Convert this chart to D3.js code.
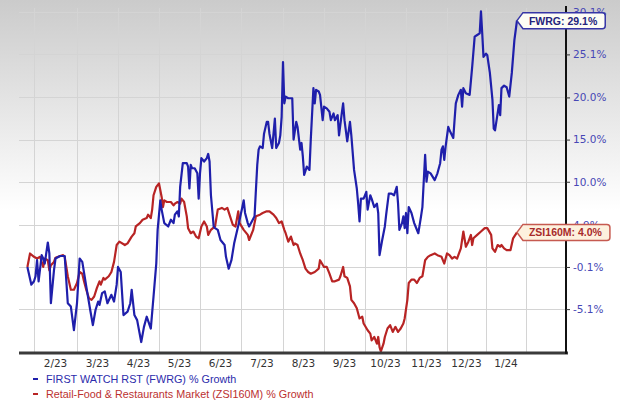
<!DOCTYPE html>
<html><head><meta charset="utf-8">
<script src="https://cdn.jsdelivr.net/npm/d3@7"></script>
<style>html,body{margin:0;padding:0;background:#fff;}svg{display:block}</style>
</head><body>
<svg id="chart" width="620" height="405"></svg>
<script>
// ---------------- DATA ----------------
const fwrgName = "FWRG";
const zsiName = "ZSI160M";
const legendLabels = ["FIRST WATCH RST (FWRG) % Growth", "Retail-Food & Restaurants Market (ZSI160M) % Growth"];
const monthLabels = ["2/23","3/23","4/23","5/23","6/23","7/23","8/23","9/23","10/23","11/23","12/23","1/24"];
const yTickValues = [-5.1, -0.1, 4.9, 10.0, 15.0, 20.0, 25.1, 30.1];
const yTickLabels = ["-5.1%","-0.1%","4.9%","10.0%","15.0%","20.0%","25.1%","30.1%"];

const fwrgDates = ["2023-01-27","2023-01-30","2023-02-01","2023-02-02","2023-02-03","2023-02-04","2023-02-06","2023-02-07","2023-02-08","2023-02-10","2023-02-11","2023-02-12","2023-02-14","2023-02-15","2023-02-18","2023-02-21","2023-02-23","2023-02-25","2023-02-27","2023-03-01","2023-03-03","2023-03-05","2023-03-08","2023-03-11","2023-03-13","2023-03-15","2023-03-17","2023-03-18","2023-03-20","2023-03-22","2023-03-24","2023-03-27","2023-03-29","2023-03-31","2023-04-01","2023-04-03","2023-04-05","2023-04-08","2023-04-10","2023-04-11","2023-04-13","2023-04-15","2023-04-18","2023-04-20","2023-04-22","2023-04-25","2023-04-27","2023-04-29","2023-04-30","2023-05-02","2023-05-03","2023-05-05","2023-05-08","2023-05-10","2023-05-12","2023-05-13","2023-05-15","2023-05-16","2023-05-17","2023-05-19","2023-05-22","2023-05-23","2023-05-24","2023-05-25","2023-05-26","2023-05-28","2023-05-30","2023-05-31","2023-06-01","2023-06-02","2023-06-04","2023-06-06","2023-06-07","2023-06-08","2023-06-09","2023-06-11","2023-06-12","2023-06-14","2023-06-16","2023-06-19","2023-06-20","2023-06-22","2023-06-24","2023-06-26","2023-06-28","2023-06-30","2023-07-02","2023-07-03","2023-07-04","2023-07-06","2023-07-07","2023-07-09","2023-07-11","2023-07-12","2023-07-13","2023-07-14","2023-07-15","2023-07-17","2023-07-18","2023-07-20","2023-07-21","2023-07-22","2023-07-24","2023-07-25","2023-07-26","2023-07-27","2023-07-29","2023-07-30","2023-07-31","2023-08-01","2023-08-02","2023-08-03","2023-08-05","2023-08-08","2023-08-09","2023-08-11","2023-08-12","2023-08-14","2023-08-15","2023-08-16","2023-08-17","2023-08-19","2023-08-21","2023-08-22","2023-08-24","2023-08-25","2023-08-26","2023-08-28","2023-08-29","2023-08-31","2023-09-01","2023-09-03","2023-09-05","2023-09-06","2023-09-08","2023-09-09","2023-09-11","2023-09-12","2023-09-14","2023-09-15","2023-09-16","2023-09-18","2023-09-20","2023-09-21","2023-09-23","2023-09-25","2023-09-26","2023-09-27","2023-09-28","2023-09-30","2023-10-02","2023-10-03","2023-10-05","2023-10-06","2023-10-08","2023-10-10","2023-10-11","2023-10-12","2023-10-14","2023-10-16","2023-10-17","2023-10-19","2023-10-21","2023-10-23","2023-10-25","2023-10-26","2023-10-27","2023-10-29","2023-10-30","2023-10-31","2023-11-01","2023-11-02","2023-11-03","2023-11-05","2023-11-07","2023-11-08","2023-11-10","2023-11-12","2023-11-13","2023-11-15","2023-11-16","2023-11-17","2023-11-19","2023-11-22","2023-11-24","2023-11-26","2023-11-27","2023-11-28","2023-11-29","2023-11-30","2023-12-02","2023-12-03","2023-12-06","2023-12-07","2023-12-08","2023-12-10","2023-12-12","2023-12-13","2023-12-14","2023-12-16","2023-12-19","2023-12-21","2023-12-23","2023-12-25","2023-12-27","2023-12-28","2023-12-29","2023-12-30","2024-01-01","2024-01-02","2024-01-04","2024-01-06","2024-01-07","2024-01-08","2024-01-10","2024-01-11","2024-01-12","2024-01-13","2024-01-15","2024-01-17","2024-01-19","2024-01-21","2024-01-23","2024-01-25"];
const fwrgValues = [-0.1,-2.2,-1.8,-1.2,0.7,-1.8,1.3,0.9,0.3,2.8,1.5,-4.4,-0.5,0.9,1.2,1.2,-4.4,-4.8,-7.6,-4.4,0.9,0.5,-2.4,-5.2,-7.0,-5.2,-4.2,-4.6,-3.2,-3.0,-4.4,-3.4,-4.2,-2.2,-0.1,-0.7,-5.8,-5.4,-4.4,-2.8,-5.8,-6.4,-9.0,-7.2,-6.0,-7.4,-3.6,0.3,4.3,7.8,6.7,5.1,4.7,5.5,5.1,6.1,6.5,5.9,9.4,12.2,12.2,11.8,9.2,12.0,11.6,11.6,11.0,8.0,11.0,12.8,12.4,12.8,13.3,12.4,8.4,4.7,4.5,4.3,3.1,2.5,1.1,-0.3,0.7,2.7,4.1,5.5,7.0,7.8,6.3,5.1,4.7,5.3,5.9,9.0,12.0,13.8,14.2,14.0,15.7,17.1,17.1,15.7,14.0,15.7,17.5,14.0,14.6,15.5,17.7,24.2,19.3,20.1,19.9,19.9,15.0,17.1,16.5,13.8,14.6,13.0,10.8,11.8,11.4,15.0,21.1,19.3,20.9,20.7,20.3,17.3,18.9,18.7,18.3,17.3,18.1,17.3,17.9,15.5,18.1,19.3,17.3,14.8,17.1,15.5,11.4,9.2,7.4,5.3,8.0,8.0,8.8,6.7,8.4,8.0,7.0,7.4,6.3,1.3,3.1,4.7,6.1,8.6,8.6,8.4,9.4,7.4,4.3,5.1,5.9,4.5,6.3,3.9,7.0,6.3,5.1,4.7,3.9,5.9,7.0,13.2,10.0,11.2,11.0,10.2,11.0,12.2,13.8,14.2,12.6,14.2,16.5,16.1,15.2,17.3,19.3,20.3,20.9,18.9,21.1,20.5,20.3,23.6,27.2,27.4,27.6,30.2,27.6,24.8,25.2,25.0,22.9,19.7,16.3,16.1,18.1,19.1,17.9,21.1,21.4,21.2,20.1,22.9,26.8,29.1];

const zsiDates = ["2023-01-27","2023-01-29","2023-02-01","2023-02-03","2023-02-05","2023-02-07","2023-02-08","2023-02-10","2023-02-11","2023-02-12","2023-02-14","2023-02-15","2023-02-18","2023-02-20","2023-02-21","2023-02-23","2023-02-25","2023-02-27","2023-03-01","2023-03-03","2023-03-05","2023-03-06","2023-03-08","2023-03-10","2023-03-12","2023-03-14","2023-03-16","2023-03-18","2023-03-19","2023-03-21","2023-03-22","2023-03-25","2023-03-27","2023-03-29","2023-03-31","2023-04-02","2023-04-06","2023-04-08","2023-04-11","2023-04-13","2023-04-14","2023-04-17","2023-04-19","2023-04-22","2023-04-23","2023-04-25","2023-04-26","2023-04-27","2023-04-29","2023-05-01","2023-05-03","2023-05-04","2023-05-05","2023-05-07","2023-05-10","2023-05-12","2023-05-13","2023-05-15","2023-05-17","2023-05-18","2023-05-20","2023-05-22","2023-05-23","2023-05-25","2023-05-27","2023-05-29","2023-05-31","2023-06-02","2023-06-04","2023-06-06","2023-06-07","2023-06-09","2023-06-12","2023-06-14","2023-06-17","2023-06-19","2023-06-21","2023-06-23","2023-06-25","2023-06-27","2023-06-29","2023-06-30","2023-07-03","2023-07-06","2023-07-07","2023-07-10","2023-07-12","2023-07-15","2023-07-17","2023-07-20","2023-07-22","2023-07-25","2023-07-27","2023-07-29","2023-07-31","2023-08-02","2023-08-03","2023-08-05","2023-08-07","2023-08-09","2023-08-10","2023-08-12","2023-08-14","2023-08-16","2023-08-18","2023-08-20","2023-08-22","2023-08-25","2023-08-28","2023-08-29","2023-09-01","2023-09-03","2023-09-05","2023-09-07","2023-09-09","2023-09-12","2023-09-13","2023-09-15","2023-09-16","2023-09-18","2023-09-20","2023-09-21","2023-09-23","2023-09-25","2023-09-27","2023-09-29","2023-09-30","2023-10-03","2023-10-05","2023-10-06","2023-10-08","2023-10-10","2023-10-11","2023-10-12","2023-10-13","2023-10-15","2023-10-16","2023-10-18","2023-10-20","2023-10-22","2023-10-24","2023-10-26","2023-10-28","2023-10-30","2023-10-31","2023-11-02","2023-11-03","2023-11-05","2023-11-07","2023-11-09","2023-11-11","2023-11-13","2023-11-15","2023-11-17","2023-11-19","2023-11-22","2023-11-24","2023-11-27","2023-11-29","2023-12-01","2023-12-03","2023-12-05","2023-12-07","2023-12-09","2023-12-12","2023-12-14","2023-12-16","2023-12-18","2023-12-20","2023-12-21","2023-12-22","2023-12-25","2023-12-28","2023-12-31","2024-01-02","2024-01-05","2024-01-06","2024-01-08","2024-01-10","2024-01-12","2024-01-13","2024-01-15","2024-01-17","2024-01-20","2024-01-22","2024-01-25"];
const zsiValues = [-0.1,1.5,1.1,0.9,1.1,-0.1,0.9,0.7,-0.5,0.1,0.5,1.0,1.2,1.3,1.1,-1.2,-2.8,-2.8,-2.0,-0.7,-0.9,-1.6,-2.8,-3.8,-4.0,-3.6,-2.6,-1.8,-2.2,-1.4,-1.6,-1.2,-0.7,0.5,2.5,2.9,2.5,2.7,3.5,3.9,4.7,5.1,5.5,5.7,6.1,5.7,6.7,8.4,9.4,9.8,8.2,7.0,7.8,7.6,7.6,7.2,7.4,7.6,7.4,8.0,7.6,5.9,4.5,3.9,4.1,3.5,3.3,4.7,5.3,4.7,3.7,4.3,4.7,6.7,6.9,6.7,6.9,5.9,4.9,4.7,6.5,5.1,4.3,3.7,3.1,4.3,5.9,6.1,6.3,6.5,6.5,6.1,5.7,5.1,5.3,4.3,3.9,2.9,3.5,2.5,2.7,2.5,1.5,0.7,-0.3,-0.7,-0.9,-0.7,-0.3,0.7,-0.1,-0.1,-0.9,-1.8,-1.8,-1.6,-1.2,-0.1,-1.2,-1.4,-2.4,-4.0,-4.4,-5.0,-6.2,-6.0,-6.8,-7.6,-8.0,-8.8,-8.4,-9.2,-8.4,-9.6,-10.1,-9.2,-8.4,-7.4,-7.0,-7.8,-7.2,-7.8,-7.4,-6.8,-6.2,-4.0,-2.0,-1.6,-1.6,-2.0,-1.4,-1.2,0.7,1.1,1.3,1.5,1.3,1.1,0.3,1.5,1.3,0.9,1.1,0.9,2.1,4.1,2.3,2.9,3.7,2.5,3.3,3.7,4.1,4.5,4.5,3.7,2.1,1.7,2.5,2.3,2.5,2.1,1.9,1.9,3.3,4.0];

// ---------------- LAYOUT ----------------
const W = 620, H = 405;
const plot = {left: 19, right: 566, top: 8, bottom: 353};
const parse = d3.timeParse("%Y-%m-%d");
const fwrg = fwrgDates.map((d, i) => ({date: parse(d), value: fwrgValues[i]}));
const zsi = zsiDates.map((d, i) => ({date: parse(d), value: zsiValues[i]}));

const monthEdges = d3.timeMonth.range(new Date(2023, 0, 1), new Date(2024, 2, 2));
const edgePx = [-7, 34, 77, 118, 159, 200, 241, 283, 324, 365, 406, 447, 486, 526, 566];
const x = d3.scaleTime().domain(monthEdges).range(edgePx);
const y = d3.scaleLinear().domain([-10.3, 30.6]).range([plot.bottom, plot.top]);

const blue = "#1f1fab", red = "#b82424";
const svg = d3.select("#chart");
const defs = svg.append("defs");
const grad = defs.append("linearGradient").attr("id", "bg").attr("x1", 0).attr("y1", 0).attr("x2", 0).attr("y2", 1);
grad.append("stop").attr("offset", "0%").attr("stop-color", "#cbcbcb");
grad.append("stop").attr("offset", "52%").attr("stop-color", "#ffffff");
grad.append("stop").attr("offset", "100%").attr("stop-color", "#ffffff");
defs.append("clipPath").attr("id", "clip").append("rect")
  .attr("x", plot.left).attr("y", 0).attr("width", plot.right - plot.left).attr("height", plot.bottom);

svg.append("rect").attr("width", W).attr("height", H).attr("fill", "url(#bg)");

// grid
const grid = svg.append("g").attr("stroke", "#d4d4d4").attr("stroke-width", 1);
grid.selectAll("line.v").data(monthEdges.filter(d => x(d) > plot.left && x(d) < plot.right - 2))
  .join("line").attr("class", "v")
  .attr("x1", d => Math.round(x(d)) + 0.5).attr("x2", d => Math.round(x(d)) + 0.5)
  .attr("y1", plot.top).attr("y2", plot.bottom);
grid.selectAll("line.h").data(yTickValues).join("line").attr("class", "h")
  .attr("x1", plot.left).attr("x2", plot.right)
  .attr("y1", d => Math.round(y(d)) + 0.5).attr("y2", d => Math.round(y(d)) + 0.5);

// lines
const line = d3.line().x(d => x(d.date)).y(d => y(d.value));
const lines = svg.append("g").attr("clip-path", "url(#clip)");
lines.append("path").datum(zsi).attr("d", line).attr("fill", "none")
  .attr("stroke", red).attr("stroke-width", 2.2).attr("stroke-linejoin", "round");
lines.append("path").datum(fwrg).attr("d", line).attr("fill", "none")
  .attr("stroke", blue).attr("stroke-width", 2.2).attr("stroke-linejoin", "round");

// axes
svg.append("line").attr("x1", plot.left).attr("x2", plot.right + 2)
  .attr("y1", plot.bottom).attr("y2", plot.bottom).attr("stroke", "#3a3a3a").attr("stroke-width", 3);
svg.append("line").attr("x1", plot.right).attr("x2", plot.right)
  .attr("y1", plot.top - 2).attr("y2", plot.bottom + 1).attr("stroke", "#111").attr("stroke-width", 2);

const yAxis = svg.append("g").attr("transform", `translate(${plot.right},0)`)
  .call(d3.axisRight(y).tickValues(yTickValues).tickFormat((d, i) => yTickLabels[i]).tickSize(4).tickPadding(3));
yAxis.select(".domain").remove();
yAxis.selectAll(".tick line").attr("stroke", "#333");
yAxis.selectAll("text").attr("fill", "#4747b5").style("font-family", "DejaVu Sans, Verdana, sans-serif").style("font-size", "10.5px");

// month labels centred in each month
const months = monthEdges.slice(1, 13);
svg.append("g").selectAll("text").data(months).join("text")
  .attr("x", (d, i) => (x(d) + x(monthEdges[i + 2])) / 2)
  .attr("y", 367).attr("text-anchor", "middle")
  .attr("fill", "#333").style("font-family", "DejaVu Sans, Verdana, sans-serif").style("font-size", "10.5px")
  .text((d, i) => monthLabels[i]);

// legend
const legColors = [blue, red];
const leg = svg.append("g");
legendLabels.forEach((t, i) => {
  const yy = 379 + i * 15;
  leg.append("line").attr("x1", 33).attr("x2", 38).attr("y1", yy).attr("y2", yy)
    .attr("stroke", legColors[i]).attr("stroke-width", 2);
  leg.append("text").attr("x", 46).attr("y", yy + 4).attr("fill", i === 0 ? "#2b2bab" : "#bb3030")
    .style("font-family", "Liberation Sans, Arial, sans-serif").style("font-size", "10.8px").text(t);
});

// end-value tags
function tag(d, name, stroke, fill, textColor) {
  const px = x(d.date), py = y(d.value);
  const g = svg.append("g");
  const txt = g.append("text").attr("x", px + 12).attr("y", py + 4)
    .attr("fill", textColor).style("font-family", "Liberation Sans, Arial, sans-serif")
    .style("font-size", "10.5px").style("font-weight", "bold")
    .text(`${name}: ${d.value.toFixed(1)}%`);
  const w = txt.node().getComputedTextLength();
  const h = 16, r = 3, bx = px + 6, ex = px + 12 + w + 8;
  const p = `M${px},${py} L${bx},${py - h / 2} L${ex - r},${py - h / 2} Q${ex},${py - h / 2} ${ex},${py - h / 2 + r} L${ex},${py + h / 2 - r} Q${ex},${py + h / 2} ${ex - r},${py + h / 2} L${bx},${py + h / 2} Z`;
  g.insert("path", "text").attr("d", p).attr("fill", fill).attr("stroke", stroke).attr("stroke-width", 1.5);
}
tag(fwrg[fwrg.length - 1], fwrgName, "#3636a6", "#fdfdf4", "#24247c");
tag(zsi[zsi.length - 1], zsiName, "#c65a50", "#fdf1de", "#a82a2a");
</script>
</body></html>
